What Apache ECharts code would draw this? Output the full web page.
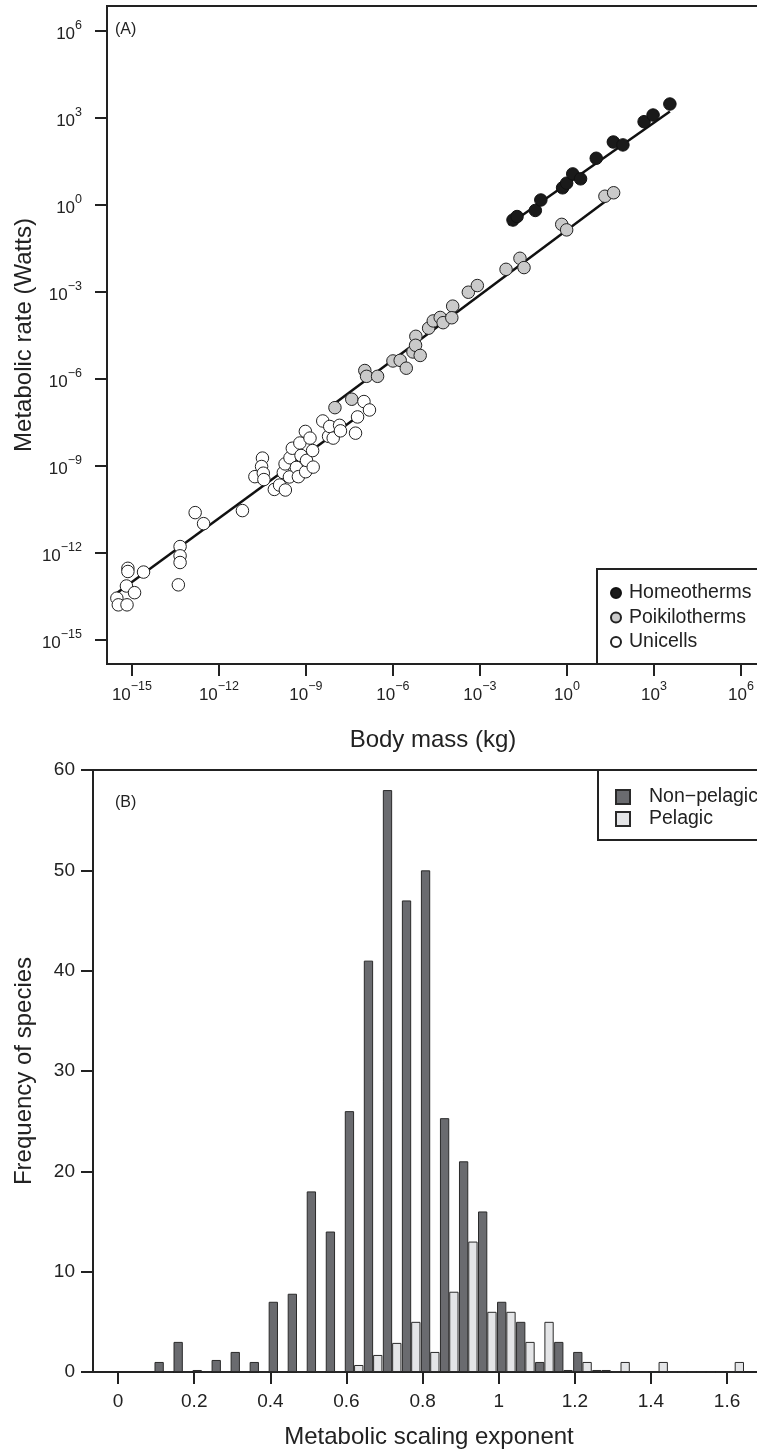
<!DOCTYPE html>
<html><head><meta charset="utf-8">
<script src="https://cdn.jsdelivr.net/npm/echarts@6/dist/echarts.min.js"></script>
<style>html,body{margin:0;padding:0;overflow:hidden;background:#fff}#c{width:790px;height:1449px}</style>
</head><body><div id="c"></div><script>
// ---------- Panel A data (log10 values) ----------
const unicellLogMass = [-15.52,-15.47,-15.17,-15.19,-14.91,-15.14,-15.14,-14.60,-13.40,-13.34,-13.34,-13.34,-12.82,-12.53,-11.19,
  -10.76,-10.50,-10.53,-10.47,-10.45,-10.09,-9.91,-9.71,-9.78,-9.72,-9.55,-9.57,-9.47,-9.33,-9.26,-9.21,-9.17,-9.02,-8.86,-9.01,
  -8.98,-8.77,-8.75,-8.42,-8.22,-8.18,-8.06,-7.84,-7.81,-7.29,-7.22,-7.00,-6.81];
const unicellLogRate = [-13.56,-13.79,-13.79,-13.14,-13.37,-12.53,-12.64,-12.66,-13.10,-11.78,-12.10,-12.33,-10.61,-10.99,-10.54,
  -9.37,-8.73,-9.02,-9.25,-9.47,-9.81,-9.66,-9.83,-9.23,-8.93,-8.72,-9.38,-8.39,-9.05,-9.37,-8.21,-8.64,-7.81,-8.04,-9.20,
  -8.81,-8.47,-9.04,-7.45,-7.98,-7.64,-8.04,-7.60,-7.79,-7.87,-7.31,-6.78,-7.07];
const poikiloLogMass = [-8.00,-7.42,-6.97,-6.91,-6.53,-6.00,-5.75,-5.54,-5.31,-5.21,-5.22,-5.06,-4.77,-4.61,-4.37,-4.27,-3.94,-3.97,
  -3.40,-3.09,-2.10,-1.62,-1.48,-0.18,-0.01,1.31,1.61];
const poikiloLogRate = [-6.99,-6.70,-5.71,-5.91,-5.91,-5.38,-5.36,-5.63,-5.07,-4.53,-4.84,-5.19,-4.25,-4.00,-3.88,-4.06,-3.49,-3.89,
  -3.01,-2.78,-2.22,-1.84,-2.16,-0.67,-0.86,0.30,0.42];
const homeoLogMass = [-1.86,-1.72,-1.09,-0.90,-0.15,-0.01,0.20,0.47,1.01,1.60,1.93,2.66,2.97,3.55];
const homeoLogRate = [-0.52,-0.40,-0.19,0.17,0.59,0.75,1.07,0.90,1.61,2.17,2.07,2.87,3.10,3.48];
// fitted lines (end points)
const unicellFit = [[-15.53,-13.39],[-7.14,-7.24]];
const poikiloFit = [[-8.00,-6.84],[1.48,0.24]];
const homeoFit = [[-2.02,-0.69],[3.55,3.22]];
const logTicks = [-15,-12,-9,-6,-3,0,3,6];

// ---------- Panel B data ----------
const bins = [0.10,0.15,0.20,0.25,0.30,0.35,0.40,0.45,0.50,0.55,0.60,0.65,0.70,0.75,0.80,0.85,0.90,0.95,1.00,1.05,1.10,1.15,1.20,1.25,1.30,1.35,1.40,1.45,1.50,1.55,1.60];
const nonPelagic = [1,3,0.2,1.2,2,1,7,7.8,18,14,26,41,58,47,50,25.3,21,16,7,5,1,3,2,0.2,0,0,0,0,0,0,0];
const pelagic =    [0,0,0,0,0,0,0,0,0,0,0.7,1.7,2.9,5,2,8,13,6,6,3,5,0.2,1,0.2,1,0,1,0,0,0,1];
const expTicks = [0,0.2,0.4,0.6,0.8,1.0,1.2,1.4,1.6];

const FONT = 'Liberation Sans, Arial, sans-serif';
const INK = '#222';
const zip = (a,b) => a.map((v,i)=>[v,b[i]]);
const supLabel = v => {
  const n = Math.round(v);
  return '{b|10}{s|' + (n < 0 ? '\u2212' + Math.abs(n) : String(n)) + '}';
};
const richSup = {
  b:{fontSize:17, lineHeight:24, verticalAlign:'bottom', fontFamily:FONT, color:'#222'},
  s:{fontSize:12.5, lineHeight:12, verticalAlign:'top', fontFamily:FONT, color:'#222'}
};
const axLine = {onZero:false, lineStyle:{color:INK,width:2}};

const chart = echarts.init(document.getElementById('c'), null, {renderer:'canvas'});
chart.setOption({
  animation:false,
  backgroundColor:'#fff',
  textStyle:{fontFamily:FONT},
  grid:[
    {left:107, top:6, width:(7.0+15.86)*29, height:658, show:true, borderColor:INK, borderWidth:2, backgroundColor:'transparent'},
    {left:93, top:770, width:(1.72+0.066)*380.6, height:602, show:true, borderColor:INK, borderWidth:2, backgroundColor:'transparent'}
  ],
  xAxis:[
    {gridIndex:0, type:'value', min:-15.86, max:7.0, axisLine:axLine,
     axisTick:{customValues:logTicks, length:12, lineStyle:{color:INK,width:2}},
     axisLabel:{customValues:logTicks, margin:16, formatter:supLabel, rich:richSup},
     splitLine:{show:false}},
    {gridIndex:1, type:'value', min:-0.066, max:1.72, axisLine:axLine,
     axisTick:{customValues:expTicks, length:12, lineStyle:{color:INK,width:2}},
     axisLabel:{customValues:expTicks, margin:20, fontSize:19, color:'#222', fontFamily:FONT,
       formatter:v=>String(Math.round(v*10)/10)},
     splitLine:{show:false}}
  ],
  yAxis:[
    {gridIndex:0, type:'value', min:-15.83, max:6.86, axisLine:axLine,
     axisTick:{customValues:logTicks, length:12, lineStyle:{color:INK,width:2}},
     axisLabel:{customValues:logTicks, margin:25, formatter:supLabel, rich:richSup},
     splitLine:{show:false}},
    {gridIndex:1, type:'value', min:0, max:60, interval:10, axisLine:axLine,
     axisTick:{length:12, lineStyle:{color:INK,width:2}},
     axisLabel:{margin:18, fontSize:19, color:'#222', fontFamily:FONT},
     splitLine:{show:false}}
  ],
  legend:[
    {data:['Homeotherms','Poikilotherms','Unicells'], orient:'vertical', left:597, top:569,
     icon:'circle', itemWidth:10, itemHeight:10, itemGap:4.5,
     padding:[14,30,12,13], borderColor:INK, borderWidth:2, backgroundColor:'#fff',
     textStyle:{fontSize:19.5, lineHeight:20, color:'#222', fontFamily:FONT, padding:[0,0,0,3]},
     selectedMode:false},
    {data:['Non\u2212pelagic','Pelagic'], orient:'vertical', left:598, top:770,
     icon:'rect', itemWidth:14, itemHeight:14, itemGap:2,
     padding:[17,30,11,17], borderColor:INK, borderWidth:2, backgroundColor:'#fff',
     textStyle:{fontSize:19.5, lineHeight:20, color:'#222', fontFamily:FONT, padding:[0,0,0,14]},
     selectedMode:false}
  ],
  graphic:[
    {type:'text', left:115, top:22, style:{text:'(A)', fontSize:16, fill:'#222', fontFamily:FONT}},
    {type:'text', left:115, top:795, style:{text:'(B)', fontSize:16, fill:'#222', fontFamily:FONT}},
    {type:'text', x:24, y:335, rotation:Math.PI/2, style:{text:'Metabolic rate (Watts)', fontSize:24, fill:'#222', fontFamily:FONT, align:'center', verticalAlign:'middle'}},
    {type:'text', x:433, y:740, style:{text:'Body mass (kg)', fontSize:24, fill:'#222', fontFamily:FONT, align:'center', verticalAlign:'middle'}},
    {type:'text', x:24, y:1071, rotation:Math.PI/2, style:{text:'Frequency of species', fontSize:24, fill:'#222', fontFamily:FONT, align:'center', verticalAlign:'middle'}},
    {type:'text', x:429, y:1437, style:{text:'Metabolic scaling exponent', fontSize:24, fill:'#222', fontFamily:FONT, align:'center', verticalAlign:'middle'}}
  ],
  series:[
    {type:'line', xAxisIndex:0, yAxisIndex:0, data:unicellFit, showSymbol:false, silent:true, z:2, lineStyle:{color:'#111',width:2.5}},
    {type:'line', xAxisIndex:0, yAxisIndex:0, data:poikiloFit, showSymbol:false, silent:true, z:2, lineStyle:{color:'#111',width:2.5}},
    {type:'line', xAxisIndex:0, yAxisIndex:0, data:homeoFit, showSymbol:false, silent:true, z:2, lineStyle:{color:'#111',width:2.5}},
    {name:'Homeotherms', type:'scatter', xAxisIndex:0, yAxisIndex:0, data:zip(homeoLogMass,homeoLogRate), symbolSize:12.5, z:3,
     itemStyle:{color:'#1a1a1a', borderColor:'#111', borderWidth:1, opacity:1}},
    {name:'Poikilotherms', type:'scatter', xAxisIndex:0, yAxisIndex:0, data:zip(poikiloLogMass,poikiloLogRate), symbolSize:12.5, z:3,
     itemStyle:{color:'#cacaca', borderColor:'#222', borderWidth:1, opacity:1}},
    {name:'Unicells', type:'scatter', xAxisIndex:0, yAxisIndex:0, data:zip(unicellLogMass,unicellLogRate), symbolSize:12.5, z:3,
     itemStyle:{color:'#ffffff', borderColor:'#222', borderWidth:1, opacity:1}},
    {name:'Non\u2212pelagic', type:'bar', xAxisIndex:1, yAxisIndex:1, data:bins.map((b,i)=>[b+0.02, nonPelagic[i]]),
     barWidth:9.3, barGap:'0%', itemStyle:{color:'#6a6b6f', borderColor:'#2a2a2a', borderWidth:1}},
    {name:'Pelagic', type:'bar', xAxisIndex:1, yAxisIndex:1, data:bins.map((b,i)=>[b+0.02, pelagic[i]]),
     barWidth:9.3, barGap:'0%', itemStyle:{color:'#e4e5e7', borderColor:'#2a2a2a', borderWidth:1}}
  ]
});
</script></body></html>
